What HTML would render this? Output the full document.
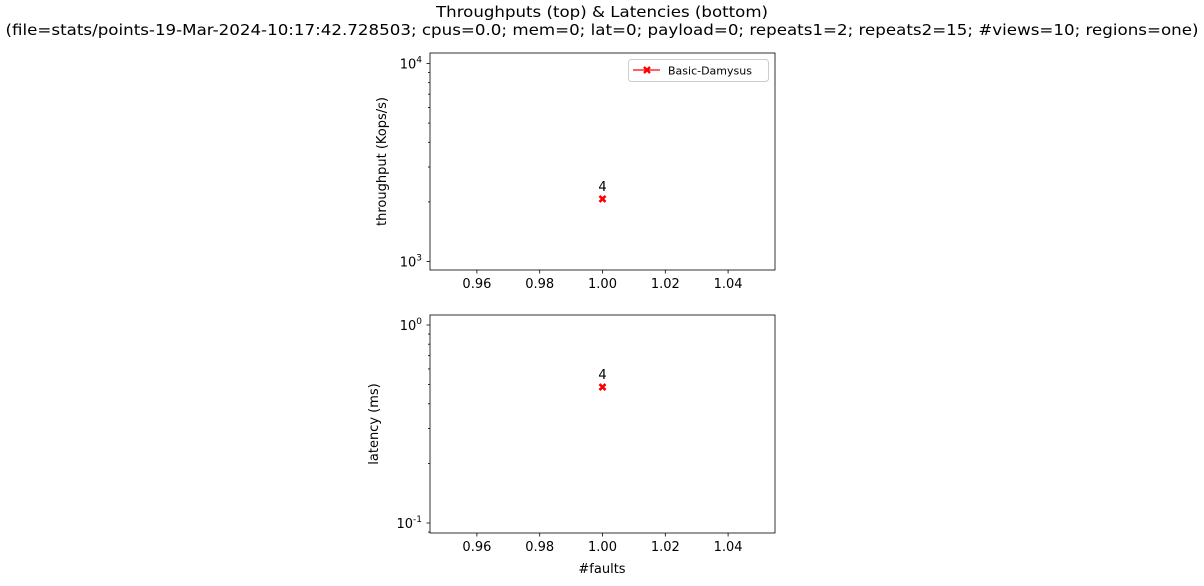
<!DOCTYPE html>
<html><head><meta charset="utf-8"><style>
body{margin:0;background:#fff;width:1204px;height:581px;overflow:hidden}
text{font-family:"DejaVu Sans","Liberation Sans",sans-serif;fill:#000}
</style></head><body>
<svg id="c" width="1204" height="581" xmlns="http://www.w3.org/2000/svg">
<text x="602" y="17" font-size="15.5" text-anchor="middle" textLength="332" lengthAdjust="spacingAndGlyphs">Throughputs (top) &amp; Latencies (bottom)</text>
<text x="602" y="35" font-size="15.5" text-anchor="middle" textLength="1193" lengthAdjust="spacingAndGlyphs">(file=stats/points-19-Mar-2024-10:17:42.728503; cpus=0.0; mem=0; lat=0; payload=0; repeats1=2; repeats2=15; #views=10; regions=one)</text>
</svg>
<script>
const faults=[1.0];
const throughput=[2070];
const latency=[0.486];
const labels=["4"];
const xTicks=[0.96,0.98,1.00,1.02,1.04];
const seriesName="Basic-Damysus";
const NS="http://www.w3.org/2000/svg";
const svg=document.getElementById('c');
function mk(t,a,p){const e=document.createElementNS(NS,t);for(const k in a)e.setAttribute(k,a[k]);(p||svg).appendChild(e);return e;}
const L=430,R=775;
const xs=v=>602.5+(v-1.0)*3140;
function panel(top,bottom,decTop,yTopPx,vals,ylabel,name,labOff){
  const g=mk('g',{});
  
  
  const ys=v=>yTopPx+(decTop-Math.log10(v))*198;
  for(let d=decTop-2;d<=decTop+1;d++){
    for(let m=1;m<10;m++){
      const v=m*Math.pow(10,d);const y=ys(v);
      if(y<top-0.5||y>bottom+0.5)continue;
      mk('line',{x1:L,x2:L-(m==1?3.5:2),y1:y,y2:y,stroke:'#000','stroke-width':0.8},g);
      if(m==1){const t=mk('text',{x:L-8,y:y+5,'font-size':13,'text-anchor':'end'},g);
        
        t.textContent='10';const s=mk('tspan',{dy:-6,'font-size':9},t);s.textContent=String(d);}
    }
  }
  xTicks.forEach(v=>{const x=xs(v);mk('line',{x1:x,x2:x,y1:bottom,y2:bottom+3.5,stroke:'#000','stroke-width':0.8},g);
    const t=mk('text',{x:x,y:bottom+18,'font-size':13,'text-anchor':'middle'},g);
    
    t.textContent=v.toFixed(2);});
  mk('rect',{x:L,y:top,width:R-L,height:bottom-top,fill:'none',stroke:'#000','stroke-width':0.8},g);
  const yl=mk('text',{x:0,y:0,'font-size':13,'text-anchor':'middle',transform:`translate(${L-labOff},${(top+bottom)/2}) rotate(-90)`},g);
  yl.textContent=ylabel;
  vals.forEach((v,i)=>{const x=xs(faults[i]),y=ys(v);
    const p=mk('path',{d:`M${x-3},${y-3}L${x+3},${y+3}M${x+3},${y-3}L${x-3},${y+3}`,stroke:'red','stroke-width':2.6},g);
    
    const t=mk('text',{x:x,y:y-8,'font-size':13,'text-anchor':'middle'},g);
    t.textContent=labels[i];});
  return g;
}
panel(53,270,4,63.5,throughput,'throughput (Kops/s)','throughput-panel',44);
panel(315,533,0,325,latency,'latency (ms)','latency-panel',52);
const xt=mk('text',{x:602,y:573,'font-size':13,'text-anchor':'middle'});
xt.textContent='#faults';
const lg=mk('g',{});

mk('rect',{x:628.5,y:59.5,width:140,height:22,rx:3,fill:'#fff',stroke:'#ccc'},lg);
mk('line',{x1:633,x2:660,y1:70,y2:70,stroke:'red','stroke-width':1.3},lg);
mk('path',{d:'M644,67L650,73M650,67L644,73',stroke:'red','stroke-width':2.4},lg);
const lt=mk('text',{x:668,y:74.5,'font-size':11},lg);
lt.textContent=seriesName;
</script>
</body></html>
